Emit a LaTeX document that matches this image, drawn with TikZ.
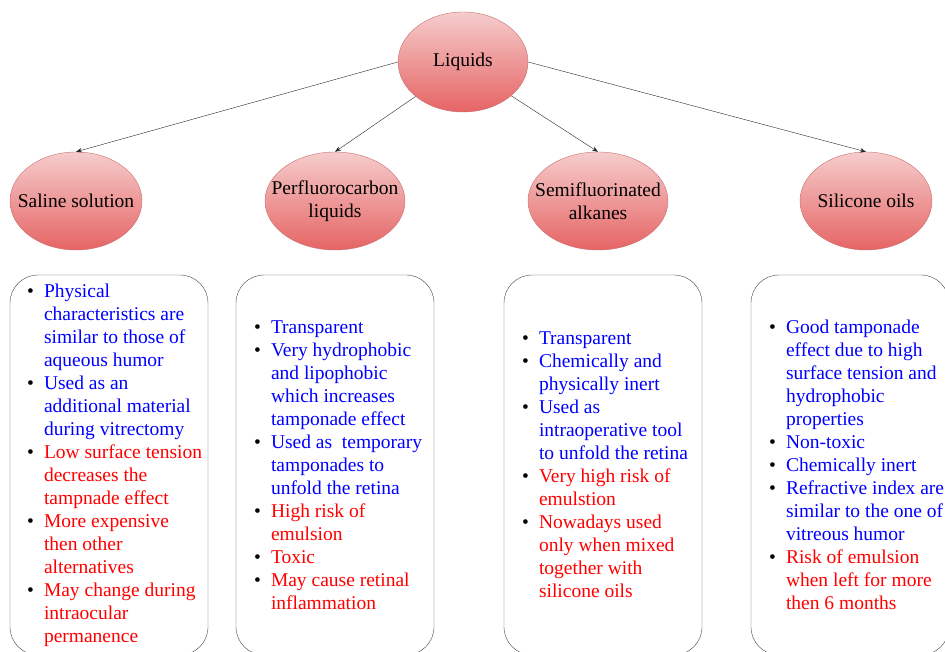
\documentclass[tikz,border=0pt]{standalone}
\usepackage{fontspec}
\setmainfont{Liberation Serif}
\usetikzlibrary{shapes.geometric,arrows.meta}

\definecolor{bubbletop}{RGB}{246,204,204}
\definecolor{bubblebottom}{RGB}{230,100,100}
\definecolor{bubbleline}{RGB}{200,110,110}
\definecolor{boxline}{RGB}{70,70,70}

\begin{document}
\begin{tikzpicture}[x=1pt, y=-1pt,
    every node/.style={font=\fontsize{19.5}{23}\selectfont, text=black},
    topic/.style={ellipse, draw=bubbleline, thin, top color=bubbletop, bottom color=bubblebottom,
      align=center, inner sep=-15pt, minimum width=132pt, minimum height=98pt},
    infobox/.style={draw=boxline, thin, rounded corners=28pt, minimum width=198pt, minimum height=380pt,
      inner sep=0pt},
    link/.style={-{Stealth[length=6pt,width=4.5pt]}, draw=black!85, thin},
    ]
  \useasboundingbox (0,0) rectangle (945,652);
  \clip (0,0) rectangle (945,652);

  % top level
  \node[topic, minimum width=130pt, minimum height=100pt] (liquids) at (463,62) {Liquids};

  % the four kinds
  \node[topic] (saline) at (76,201) {Saline solution};
  \node[topic, minimum width=140pt] (pfcl) at (335,201) {Perfluorocarbon\\liquids};
  \node[topic, minimum width=140pt] (sfa) at (598,201) {Semifluorinated\\alkanes};
  \node[topic] (silicone) at (866,201) {Silicone oils};

  \draw[link] (liquids.west) -- (saline.north);
  \draw[link] (liquids.216) -- (pfcl.north);
  \draw[link] (liquids.-35) -- (sfa.north);
  \draw[link] (liquids.east) -- (silicone.north);

  % properties
  \node[infobox] (salinebox) at (109,465) {\begin{minipage}{198pt}
    \setlength\leftmargini{34pt}
    \begin{itemize}
      \setlength\itemsep{0pt}        % no gap between items
      \setlength\parskip{0pt}
      \setlength\parsep{0pt}
      \setlength\labelsep{10pt}
      \item \textcolor{blue}{Physical\\characteristics are\\similar to those of\\aqueous humor}
      \item \textcolor{blue}{Used as an\\additional material\\during vitrectomy}
      \item \textcolor{red}{Low surface tension\\decreases the\\tampnade effect}
      \item \textcolor{red}{More expensive\\then other\\alternatives}
      \item \textcolor{red}{May change during\\intraocular\\permanence}
    \end{itemize}
  \end{minipage}};

  \node[infobox] (pfclbox) at (335,465) {\begin{minipage}{198pt}
    \setlength\leftmargini{35pt}
    \begin{itemize}
      \setlength\itemsep{0pt}        % no gap between items
      \setlength\parskip{0pt}
      \setlength\parsep{0pt}
      \setlength\labelsep{10pt}
      \item \textcolor{blue}{Transparent}
      \item \textcolor{blue}{Very hydrophobic\\and lipophobic\\which increases\\tamponade effect}
      \item \textcolor{blue}{Used as\ \ temporary\\tamponades to\\unfold the retina}
      \item \textcolor{red}{High risk of\\emulsion}
      \item \textcolor{red}{Toxic}
      \item \textcolor{red}{May cause retinal\\inflammation}
    \end{itemize}
  \end{minipage}};

  \node[infobox] (sfabox) at (603,465) {\begin{minipage}{198pt}
    \setlength\leftmargini{35pt}
    \begin{itemize}
      \setlength\itemsep{0pt}        % no gap between items
      \setlength\parskip{0pt}
      \setlength\parsep{0pt}
      \setlength\labelsep{10pt}
      \item \textcolor{blue}{Transparent}
      \item \textcolor{blue}{Chemically and\\physically inert}
      \item \textcolor{blue}{Used as\\intraoperative tool\\to unfold the retina}
      \item \textcolor{red}{Very high risk of\\emulstion}
      \item \textcolor{red}{Nowadays used\\only when mixed\\together with\\silicone oils}
    \end{itemize}
  \end{minipage}};

  \node[infobox] (siliconebox) at (850,465) {\begin{minipage}{198pt}
    \setlength\leftmargini{35pt}
    \begin{itemize}
      \setlength\itemsep{0pt}        % no gap between items
      \setlength\parskip{0pt}
      \setlength\parsep{0pt}
      \setlength\labelsep{10pt}
      \item \textcolor{blue}{Good tamponade\\effect due to high\\surface tension and\\hydrophobic\\properties}
      \item \textcolor{blue}{Non-toxic}
      \item \textcolor{blue}{Chemically inert}
      \item \textcolor{blue}{\mbox{Refractive index are}\\\mbox{similar to the one of}\\vitreous humor}
      \item \textcolor{red}{Risk of emulsion\\when left for more\\then 6 months}
    \end{itemize}
  \end{minipage}};

\end{tikzpicture}
\end{document}
